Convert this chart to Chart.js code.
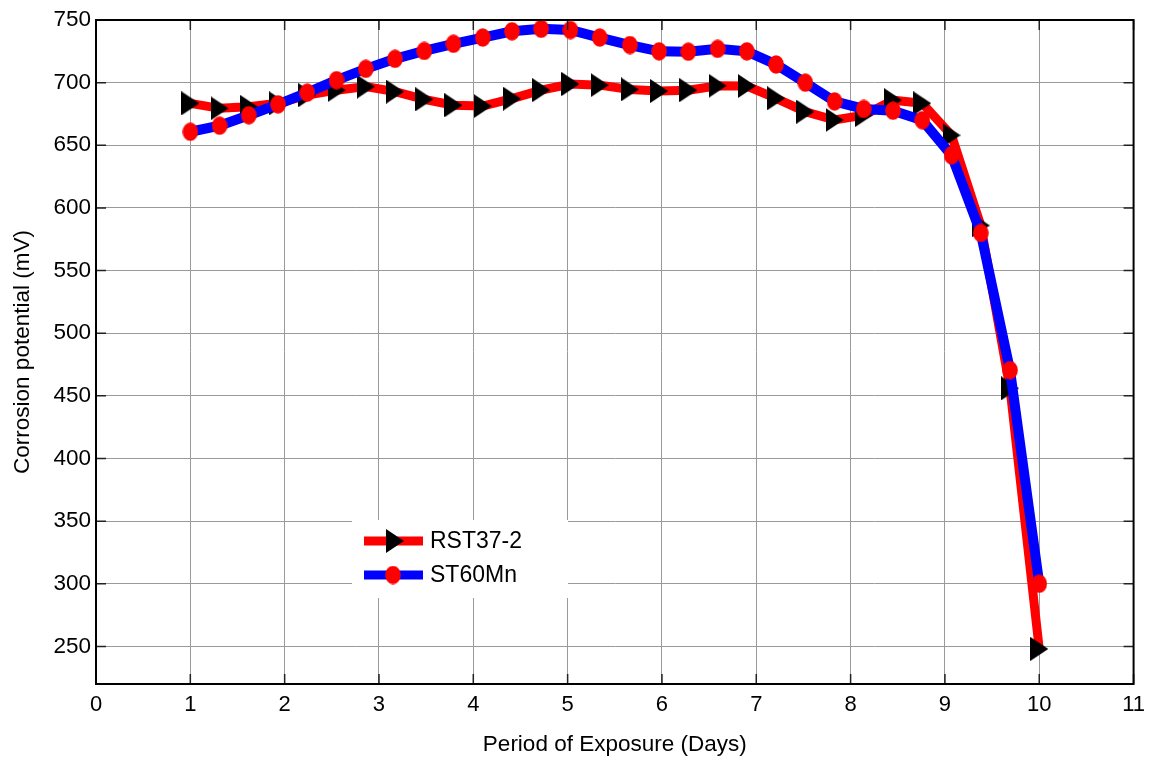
<!DOCTYPE html>
<html>
<head>
<meta charset="utf-8">
<script src="https://cdn.jsdelivr.net/npm/chart.js@4.4.1/dist/chart.umd.min.js"></script>
<style>
  html, body { margin: 0; padding: 0; background: #fff; }
  #chart { display: block; }
</style>
</head>
<body>
<canvas id="chart" width="1153" height="762"></canvas>
<script>
// exposure period (days), one reading every ~0.31 day
const days = [1.00, 1.31, 1.62, 1.93, 2.24, 2.55, 2.86, 3.17, 3.48, 3.79,
              4.10, 4.41, 4.72, 5.03, 5.34, 5.66, 5.97, 6.28, 6.59, 6.90,
              7.21, 7.52, 7.83, 8.14, 8.45, 8.76, 9.07, 9.38, 9.69, 10.00];

// corrosion potential (mV)
const rst37 = [683.5, 679.5, 680.8, 683.5, 690, 694, 696.8, 692.8, 686.7, 682,
               681.3, 687.2, 694, 698.9, 698, 694.6, 693.3, 694, 697.5, 697.3,
               687.5, 676.8, 670.2, 674, 686, 683.5, 658, 586, 456, 248];
const st60mn = [660.8, 665.6, 674, 682.7, 692, 702, 711, 719, 725.3, 731,
                736, 741, 743, 742, 736, 730, 725, 724.7, 727, 725,
                714.5, 700, 685, 679, 677.6, 670, 642, 580, 470.5, 300];

const seriesNames = ["RST37-2", "ST60Mn"];
const xTitle = "Period of Exposure (Days)";
const yTitle = "Corrosion potential (mV)";

const FONT = "'Liberation Sans', Arial, sans-serif";

// marker shapes (MATLAB-like '>' and 'o', slightly stretched)
function makeTriangle() {
  const c = document.createElement("canvas");
  c.width = 18; c.height = 24;
  const g = c.getContext("2d");
  g.fillStyle = "#000";
  g.beginPath();
  g.moveTo(0, 0); g.lineTo(18, 12); g.lineTo(0, 24); g.closePath();
  g.fill();
  return c;
}
function makeDot() {
  const c = document.createElement("canvas");
  c.width = 16; c.height = 19;
  const g = c.getContext("2d");
  g.fillStyle = "#ff0000";
  g.beginPath();
  g.ellipse(8, 9.5, 7.8, 9.3, 0, 0, Math.PI * 2);
  g.fill();
  return c;
}
const triMarker = makeTriangle();
const dotMarker = makeDot();

// box, inner tick marks and the legend drawn on top
const frameAndLegend = {
  id: "frameAndLegend",
  afterDraw(chart) {
    const ctx = chart.ctx;
    const a = chart.chartArea;
    const xs = chart.scales.x, ys = chart.scales.y;
    ctx.save();
    ctx.strokeStyle = "#222";
    ctx.lineWidth = 1.5;
    ctx.beginPath();
    xs.ticks.forEach(t => {
      const px = xs.getPixelForValue(t.value);
      ctx.moveTo(px, a.bottom); ctx.lineTo(px, a.bottom - 10);
      ctx.moveTo(px, a.top); ctx.lineTo(px, a.top + 10);
    });
    ys.ticks.forEach(t => {
      const py = ys.getPixelForValue(t.value);
      ctx.moveTo(a.left, py); ctx.lineTo(a.left + 10, py);
      ctx.moveTo(a.right, py); ctx.lineTo(a.right - 10, py);
    });
    ctx.stroke();
    ctx.strokeStyle = "#000";
    ctx.lineWidth = 2;
    ctx.strokeRect(a.left, a.top, a.right - a.left, a.bottom - a.top);

    // legend
    ctx.fillStyle = "#fff";
    ctx.fillRect(352, 520, 216, 78);
    const rows = [
      { y: 541, color: "#ff0000", mark: triMarker, mx: 395 },
      { y: 575, color: "#0000ff", mark: dotMarker, mx: 393 }
    ];
    rows.forEach((r, i) => {
      ctx.strokeStyle = r.color;
      ctx.lineWidth = 9;
      ctx.beginPath();
      ctx.moveTo(364, r.y); ctx.lineTo(423, r.y);
      ctx.stroke();
      ctx.drawImage(r.mark, r.mx - r.mark.width / 2, r.y - r.mark.height / 2);
      ctx.fillStyle = "#000";
      ctx.font = "23px " + FONT;
      ctx.textAlign = "left";
      ctx.textBaseline = "middle";
      ctx.fillText(seriesNames[i], 430, r.y + 1);
    });
    ctx.restore();
  }
};

const gridColor = "#9a9a9a";

new Chart(document.getElementById("chart"), {
  type: "line",
  data: {
    datasets: [{
      label: seriesNames[0],
      data: days.map((d, i) => ({ x: d, y: rst37[i] })),
      borderColor: "#ff0000",
      borderWidth: 9,
      pointStyle: triMarker,
      pointRadius: 10,
      tension: 0,
      order: 2
    }, {
      label: seriesNames[1],
      data: days.map((d, i) => ({ x: d, y: st60mn[i] })),
      borderColor: "#0000ff",
      borderWidth: 10,
      pointStyle: dotMarker,
      pointRadius: 9,
      tension: 0,
      order: 1
    }]
  },
  options: {
    responsive: false,
    animation: false,
    devicePixelRatio: 1,
    layout: { padding: { top: 20, right: 17, left: 0, bottom: 0 } },
    plugins: {
      legend: { display: false },
      tooltip: { enabled: false }
    },
    scales: {
      x: {
        type: "linear",
        min: 0,
        max: 11,
        ticks: { stepSize: 1, color: "#000", padding: 8, font: { family: FONT, size: 22 } },
        grid: { color: gridColor, lineWidth: 1, drawTicks: false },
        border: { color: "#000", width: 2 },
        title: { display: true, text: xTitle, color: "#000", padding: { top: 0, bottom: 4 }, font: { family: FONT, size: 22.5 } },
        afterFit(s) { s.height = 78; }
      },
      y: {
        min: 220,
        max: 750,
        ticks: { stepSize: 50, includeBounds: false, color: "#000", padding: 5, font: { family: FONT, size: 22.5 } },
        grid: { color: gridColor, lineWidth: 1, drawTicks: false },
        border: { color: "#000", width: 2 },
        title: { display: true, text: yTitle, color: "#000", padding: { top: 9, bottom: 0 }, font: { family: FONT, size: 22.5 } },
        afterFit(s) { s.width = 96; }
      }
    }
  },
  plugins: [frameAndLegend]
});
</script>
</body>
</html>
